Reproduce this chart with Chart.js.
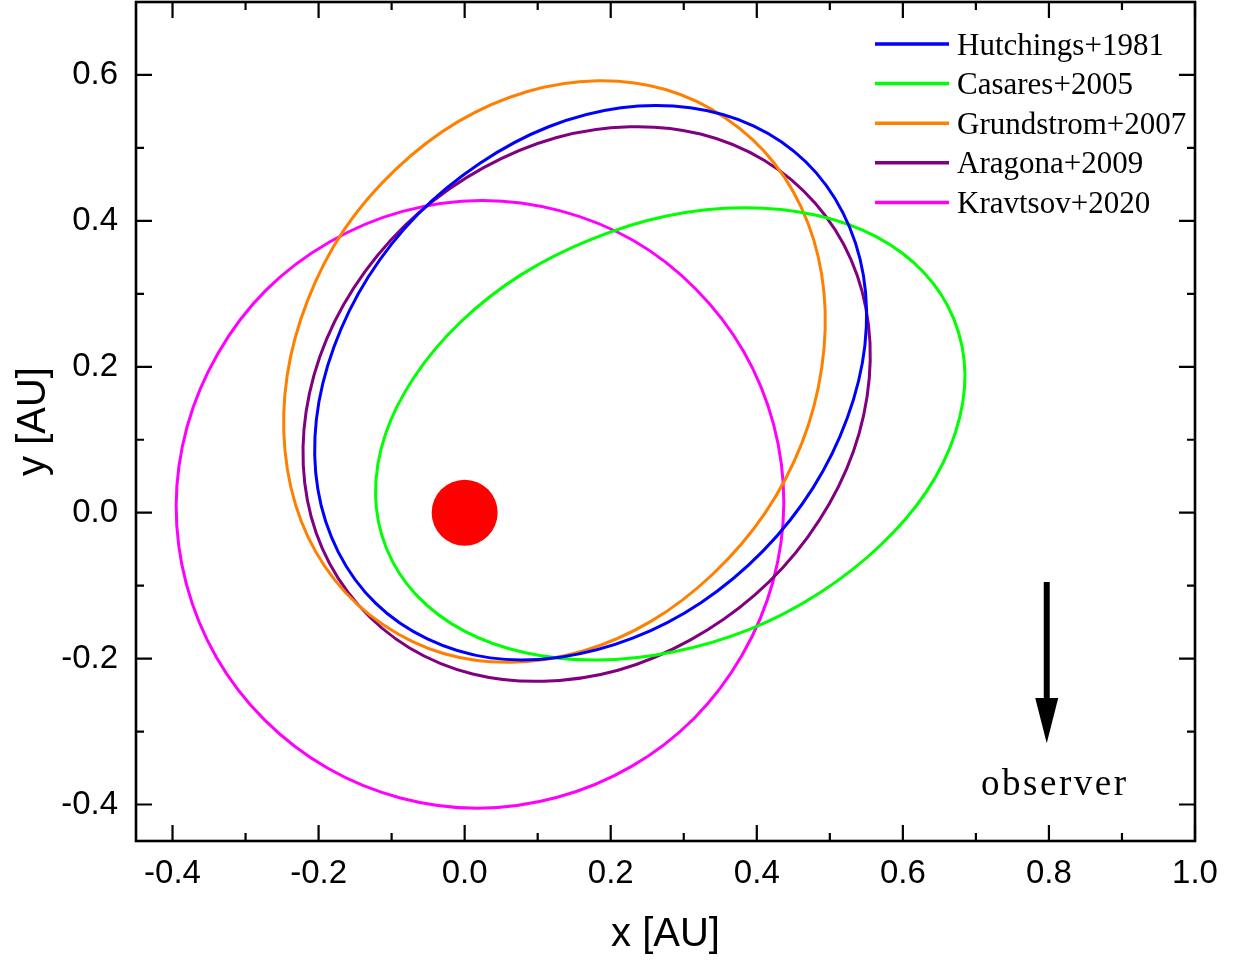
<!DOCTYPE html>
<html>
<head>
<meta charset="utf-8">
<script src="https://cdn.jsdelivr.net/npm/chart.js@4.4.0/dist/chart.umd.min.js"></script>
<style>
  html, body { margin: 0; padding: 0; background: #fff; }
  #wrap { width: 1234px; height: 962px; }
</style>
</head>
<body>
<div id="wrap"><canvas id="orbits"></canvas></div>
<script>
// legend labels and line colours
const orbitNames = ['Hutchings+1981', 'Casares+2005', 'Grundstrom+2007', 'Aragona+2009', 'Kravtsov+2020'];
const orbitColors = ['#0000ff', '#00ff00', '#ff8000', '#800080', '#ff00ff'];

// points, [x, y] in AU, going round each orbit (closed loops)
const hutchings1981 = [
  [0.467, 0.481], [0.396, 0.530], [0.309, 0.555], [0.214, 0.555], [0.115, 0.529], [0.021, 0.479],
  [-0.064, 0.409], [-0.132, 0.323], [-0.179, 0.227], [-0.203, 0.128], [-0.201, 0.032], [-0.173, -0.054],
  [-0.122, -0.124], [-0.051, -0.173], [0.035, -0.199], [0.131, -0.198], [0.230, -0.172], [0.324, -0.123],
  [0.409, -0.052], [0.477, 0.034], [0.524, 0.130], [0.548, 0.229], [0.546, 0.325], [0.518, 0.411]
];
const casares2005 = [
  [0.670, 0.265], [0.629, 0.329], [0.564, 0.378], [0.480, 0.408], [0.382, 0.418], [0.278, 0.407],
  [0.174, 0.375], [0.077, 0.326], [-0.006, 0.261], [-0.069, 0.186], [-0.109, 0.106], [-0.122, 0.025],
  [-0.107, -0.049], [-0.066, -0.113], [-0.001, -0.162], [0.083, -0.192], [0.181, -0.202], [0.285, -0.191],
  [0.390, -0.160], [0.486, -0.110], [0.569, -0.045], [0.633, 0.030], [0.672, 0.110], [0.685, 0.190]
];
const grundstrom2007 = [
  [0.357, 0.541], [0.275, 0.580], [0.182, 0.592], [0.085, 0.577], [-0.009, 0.536], [-0.094, 0.471],
  [-0.165, 0.388], [-0.215, 0.291], [-0.243, 0.188], [-0.246, 0.085], [-0.224, -0.011], [-0.178, -0.092],
  [-0.111, -0.154], [-0.029, -0.193], [0.064, -0.205], [0.161, -0.190], [0.255, -0.149], [0.340, -0.084],
  [0.411, -0.001], [0.462, 0.096], [0.489, 0.199], [0.492, 0.302], [0.470, 0.397], [0.424, 0.479]
];
const aragona2009 = [
  [0.480, 0.424], [0.410, 0.483], [0.323, 0.519], [0.226, 0.529], [0.125, 0.514], [0.026, 0.473],
  [-0.063, 0.411], [-0.136, 0.331], [-0.189, 0.238], [-0.217, 0.139], [-0.219, 0.041], [-0.195, -0.049],
  [-0.146, -0.126], [-0.076, -0.185], [0.011, -0.221], [0.108, -0.231], [0.210, -0.216], [0.308, -0.175],
  [0.397, -0.113], [0.470, -0.033], [0.523, 0.060], [0.551, 0.159], [0.553, 0.257], [0.529, 0.347]
];
const kravtsov2020 = [
  [0.316, 0.307], [0.231, 0.373], [0.130, 0.414], [0.023, 0.428], [-0.085, 0.413], [-0.185, 0.371],
  [-0.272, 0.305], [-0.338, 0.218], [-0.380, 0.118], [-0.395, 0.010], [-0.381, -0.098], [-0.340, -0.198],
  [-0.274, -0.284], [-0.188, -0.350], [-0.088, -0.391], [0.019, -0.405], [0.127, -0.390], [0.228, -0.348],
  [0.314, -0.282], [0.380, -0.195], [0.422, -0.095], [0.437, 0.013], [0.423, 0.121], [0.382, 0.221]
];
const orbitPoints = [hutchings1981, casares2005, grundstrom2007, aragona2009, kravtsov2020];

// the star sits at the origin
const starPos = [0, 0];

// axis ticks
const xTicks = [-0.4, -0.2, 0.0, 0.2, 0.4, 0.6, 0.8, 1.0];
const yTicks = [-0.4, -0.2, 0.0, 0.2, 0.4, 0.6];
const xMinor = [-0.3, -0.1, 0.1, 0.3, 0.5, 0.7, 0.9];
const yMinor = [-0.3, -0.1, 0.1, 0.3, 0.5];

// observer direction marker (data coords)
const observer = { x: 0.797, top: -0.095, headBase: -0.254, tip: -0.316, textX: 0.808, textY: -0.387 };

const datasets = orbitPoints.map((pts, i) => ({
  label: orbitNames[i],
  data: pts.map(p => ({ x: p[0], y: p[1] })),
  showLine: true,
  closed: true,
  borderColor: orbitColors[i],
  borderWidth: 3,
  pointRadius: 0,
  pointHoverRadius: 0,
  tension: 0.34,
  fill: false
}));
datasets.unshift({
  label: 'star',
  data: [{ x: starPos[0], y: starPos[1] }],
  pointRadius: 33,
  pointBackgroundColor: '#ff0000',
  pointBorderWidth: 0,
  showLine: false
});

// make the orbit lines closed loops (same trick the radar chart uses)
const loopPlugin = {
  id: 'closeOrbits',
  afterDatasetsUpdate(chart) {
    chart.data.datasets.forEach((ds, i) => {
      if (!ds.closed) return;
      const line = chart.getDatasetMeta(i).dataset;
      if (!line) return;
      line._loop = true;
      line._fullLoop = true;
      line._pointsUpdated = false;
      delete line._segments;
      line._path = undefined;
    });
  }
};

// frame and inward ticks on all four sides
const framePlugin = {
  id: 'frame',
  afterDraw(chart) {
    const { ctx, chartArea: a, scales: { x, y } } = chart;
    ctx.save();
    ctx.strokeStyle = '#000';
    ctx.lineWidth = 2.2;
    ctx.beginPath();
    const tickX = (vals, len) => {
      vals.forEach(v => {
        const px = x.getPixelForValue(v);
        ctx.moveTo(px, a.bottom); ctx.lineTo(px, a.bottom - len);
        ctx.moveTo(px, a.top); ctx.lineTo(px, a.top + len);
      });
    };
    const tickY = (vals, len) => {
      vals.forEach(v => {
        const py = y.getPixelForValue(v);
        ctx.moveTo(a.left, py); ctx.lineTo(a.left + len, py);
        ctx.moveTo(a.right, py); ctx.lineTo(a.right - len, py);
      });
    };
    tickX(xTicks, 16); tickX(xMinor, 8);
    tickY(yTicks, 16); tickY(yMinor, 8);
    ctx.stroke();
    ctx.lineWidth = 2.6;
    ctx.strokeRect(a.left, a.top, a.right - a.left, a.bottom - a.top);
    ctx.restore();
  }
};

// legend in the upper right of the plot
const legendPlugin = {
  id: 'orbitLegend',
  afterDraw(chart) {
    const { ctx, chartArea: a } = chart;
    ctx.save();
    ctx.font = '31px "Liberation Serif", "Times New Roman", serif';
    ctx.fillStyle = '#000';
    ctx.textBaseline = 'alphabetic';
    ctx.lineWidth = 3.5;
    orbitNames.forEach((name, i) => {
      const rowY = a.top + 42 + i * 39.6;
      ctx.strokeStyle = orbitColors[i];
      ctx.beginPath();
      ctx.moveTo(a.right - 320, rowY);
      ctx.lineTo(a.right - 246, rowY);
      ctx.stroke();
      ctx.fillText(name, a.right - 238, rowY + 10.5);
    });
    ctx.restore();
  }
};

// arrow pointing to the observer
const observerPlugin = {
  id: 'observerArrow',
  afterDatasetsDraw(chart) {
    const { ctx, scales: { x, y } } = chart;
    const ax = x.getPixelForValue(observer.x);
    const y0 = y.getPixelForValue(observer.top);
    const yb = y.getPixelForValue(observer.headBase);
    const yt = y.getPixelForValue(observer.tip);
    ctx.save();
    ctx.strokeStyle = '#000';
    ctx.fillStyle = '#000';
    ctx.lineWidth = 6;
    ctx.beginPath();
    ctx.moveTo(ax, y0);
    ctx.lineTo(ax, yb + 2);
    ctx.stroke();
    ctx.beginPath();
    ctx.moveTo(ax - 11.5, yb);
    ctx.lineTo(ax + 11.5, yb);
    ctx.lineTo(ax, yt);
    ctx.closePath();
    ctx.fill();
    ctx.font = '37px "Liberation Serif", "Times New Roman", serif';
    if ('letterSpacing' in ctx) ctx.letterSpacing = '2.5px';
    ctx.textAlign = 'center';
    ctx.textBaseline = 'alphabetic';
    ctx.fillText('observer', x.getPixelForValue(observer.textX), y.getPixelForValue(observer.textY));
    ctx.restore();
  }
};

Chart.defaults.font.family = '"Liberation Sans", Arial, sans-serif';
Chart.defaults.color = '#000';

new Chart(document.getElementById('orbits'), {
  type: 'scatter',
  data: { datasets },
  options: {
    responsive: true,
    maintainAspectRatio: false,
    animation: false,
    devicePixelRatio: 1,
    layout: { autoPadding: false, padding: { top: 2, right: 39, left: 0, bottom: 0 } },
    plugins: { legend: { display: false }, tooltip: { enabled: false } },
    scales: {
      x: {
        type: 'linear',
        min: -0.45,
        max: 1.0,
        grid: { display: false, drawTicks: false },
        border: { display: false },
        afterBuildTicks: s => { s.ticks = xTicks.map(v => ({ value: v })); },
        afterFit: s => { s.height = 121; s.paddingLeft = 0; s.paddingRight = 0; },
        ticks: {
          padding: 13,
          font: { size: 33 },
          maxRotation: 0,
          callback: v => v.toFixed(1)
        },
        title: { display: true, text: 'x [AU]', font: { size: 40 }, padding: { top: 0, bottom: 3 } }
      },
      y: {
        type: 'linear',
        min: -0.45,
        max: 0.7,
        grid: { display: false, drawTicks: false },
        border: { display: false },
        afterBuildTicks: s => { s.ticks = yTicks.map(v => ({ value: v })); },
        afterFit: s => { s.width = 136; s.paddingTop = 0; s.paddingBottom = 0; },
        ticks: {
          padding: 18,
          font: { size: 33 },
          callback: v => v.toFixed(1)
        },
        title: { display: true, text: 'y [AU]', font: { size: 40 }, padding: { top: 10, bottom: 0 } }
      }
    }
  },
  plugins: [loopPlugin, framePlugin, legendPlugin, observerPlugin]
});
</script>
</body>
</html>
